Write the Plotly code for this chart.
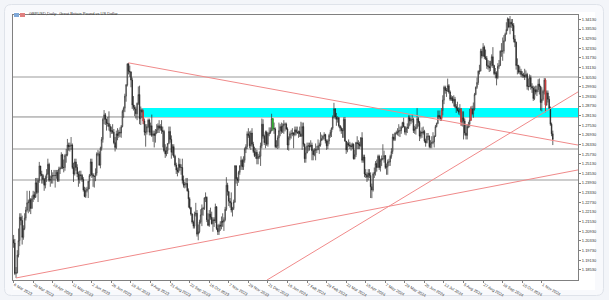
import pandas as pd
import plotly.graph_objects as go

# ---------------- DATA (GBPUSD daily, prices in 1e-4) ----------------
OPEN_FIRST = 12040
HOLIDAYS = ["2023-12-25", "2024-01-01"]
FIRST_DAY, LAST_DAY = "2023-03-06", "2024-11-14"

C_2023_03 = [12020, 11830, 11835, 11945, 12035, 12180, 12160, 12055, 12110, 12175, 12225, 12270, 12275, 12290, 12235, 12295, 12320, 12305, 12395, 12335]
H_2023_03 = [12070, 12045, 11870, 11975, 12110, 12205, 12205, 12190, 12130, 12205, 12245, 12345, 12290, 12345, 12300, 12315, 12345, 12340, 12425, 12425]
L_2023_03 = [11990, 11820, 11802, 11830, 11930, 12000, 12130, 12010, 12040, 12100, 12160, 12215, 12205, 12215, 12200, 12235, 12275, 12290, 12300, 12325]

C_2023_04 = [12410, 12500, 12450, 12440, 12415, 12380, 12425, 12450, 12510, 12410, 12415, 12435, 12440, 12440, 12440, 12460, 12410, 12480, 12485, 12570]
H_2023_04 = [12425, 12525, 12500, 12470, 12450, 12425, 12440, 12480, 12545, 12520, 12440, 12475, 12460, 12475, 12475, 12475, 12475, 12495, 12495, 12585]
L_2023_04 = [12275, 12395, 12435, 12390, 12390, 12345, 12360, 12400, 12445, 12400, 12370, 12390, 12390, 12410, 12365, 12420, 12400, 12400, 12450, 12480]

C_2023_05 = [12490, 12490, 12565, 12570, 12630, 12620, 12625, 12630, 12490, 12450, 12525, 12490, 12450, 12415, 12445, 12440, 12415, 12350, 12310, 12345, 12355, 12405, 12440]
H_2023_05 = [12575, 12540, 12575, 12605, 12668, 12645, 12645, 12680, 12640, 12520, 12545, 12545, 12510, 12465, 12470, 12470, 12450, 12430, 12370, 12365, 12370, 12405, 12450]
L_2023_05 = [12480, 12460, 12470, 12520, 12560, 12595, 12590, 12600, 12480, 12400, 12440, 12470, 12430, 12370, 12390, 12410, 12400, 12340, 12305, 12300, 12335, 12300, 12355]

C_2023_06 = [12525, 12445, 12435, 12435, 12455, 12575, 12575, 12505, 12610, 12665, 12790, 12818, 12790, 12765, 12765, 12745, 12715, 12720, 12710, 12645, 12615, 12700]
H_2023_06 = [12545, 12545, 12455, 12440, 12485, 12585, 12600, 12590, 12620, 12680, 12800, 12848, 12830, 12795, 12805, 12840, 12760, 12745, 12760, 12730, 12680, 12720]
L_2023_06 = [12435, 12425, 12370, 12365, 12405, 12440, 12560, 12500, 12485, 12595, 12645, 12760, 12755, 12720, 12745, 12720, 12675, 12700, 12700, 12635, 12590, 12605]

C_2023_07 = [12690, 12710, 12705, 12745, 12840, 12860, 12935, 13005, 13135, 13090, 13085, 13035, 12880, 12865, 12855, 12825, 12890, 12945, 12795, 12850, 12835]
H_2023_07 = [12735, 12725, 12740, 12755, 12850, 12870, 12950, 13010, 13140, 13142, 13125, 13090, 13050, 12935, 12880, 12870, 12895, 12995, 13000, 12870, 12860]
L_2023_07 = [12660, 12675, 12680, 12675, 12740, 12800, 12835, 12900, 12995, 13070, 13055, 12990, 12855, 12845, 12810, 12795, 12785, 12880, 12760, 12755, 12800]

C_2023_08 = [12780, 12710, 12710, 12745, 12785, 12710, 12750, 12690, 12700, 12690, 12705, 12725, 12750, 12735, 12745, 12720, 12715, 12595, 12575, 12595, 12640, 12715, 12665]
H_2023_08 = [12850, 12795, 12760, 12760, 12795, 12795, 12770, 12820, 12720, 12720, 12730, 12760, 12765, 12785, 12760, 12785, 12745, 12725, 12635, 12620, 12640, 12745, 12745]
L_2023_08 = [12760, 12690, 12620, 12695, 12735, 12690, 12690, 12680, 12650, 12615, 12645, 12700, 12705, 12705, 12720, 12700, 12615, 12585, 12550, 12560, 12575, 12635, 12645]

C_2023_09 = [12585, 12620, 12560, 12505, 12475, 12465, 12510, 12490, 12490, 12410, 12380, 12385, 12390, 12345, 12295, 12240, 12200, 12150, 12125, 12200, 12205]
H_2023_09 = [12690, 12635, 12635, 12570, 12520, 12490, 12550, 12545, 12510, 12545, 12440, 12400, 12425, 12425, 12360, 12305, 12245, 12205, 12160, 12215, 12270]
L_2023_09 = [12545, 12565, 12550, 12495, 12450, 12435, 12455, 12470, 12445, 12390, 12365, 12360, 12365, 12340, 12240, 12230, 12190, 12140, 12110, 12110, 12185]

C_2023_10 = [12075, 12090, 12150, 12195, 12235, 12235, 12300, 12305, 12165, 12130, 12200, 12180, 12140, 12165, 12160, 12245, 12110, 12090, 12130, 12125, 12155, 12150]
H_2023_10 = [12225, 12135, 12165, 12230, 12260, 12245, 12305, 12335, 12310, 12205, 12225, 12240, 12215, 12180, 12180, 12265, 12250, 12135, 12140, 12155, 12185, 12205]
L_2023_10 = [12060, 12037, 12080, 12140, 12125, 12190, 12225, 12275, 12150, 12125, 12120, 12165, 12135, 12090, 12120, 12145, 12100, 12070, 12070, 12095, 12105, 12120]

C_2023_11 = [12165, 12230, 12380, 12340, 12280, 12270, 12225, 12235, 12275, 12500, 12420, 12410, 12460, 12500, 12535, 12495, 12535, 12605, 12620, 12700, 12690, 12625]
H_2023_11 = [12180, 12245, 12430, 12395, 12340, 12300, 12335, 12245, 12290, 12505, 12505, 12430, 12470, 12505, 12560, 12545, 12560, 12615, 12635, 12715, 12735, 12715]
L_2023_11 = [12095, 12155, 12220, 12315, 12250, 12240, 12210, 12185, 12225, 12270, 12390, 12375, 12395, 12445, 12475, 12475, 12475, 12520, 12580, 12605, 12675, 12610]

C_2023_12 = [12705, 12635, 12590, 12565, 12585, 12545, 12560, 12560, 12625, 12760, 12685, 12645, 12710, 12635, 12700, 12705, 12720, 12795, 12735, 12730]
H_2023_12 = [12720, 12735, 12650, 12620, 12610, 12600, 12575, 12590, 12645, 12795, 12790, 12695, 12720, 12720, 12710, 12740, 12740, 12825, 12795, 12770]
L_2023_12 = [12600, 12620, 12580, 12555, 12545, 12510, 12510, 12545, 12500, 12610, 12670, 12630, 12610, 12625, 12620, 12685, 12700, 12715, 12720, 12700]

C_2024_01 = [12620, 12625, 12675, 12720, 12745, 12715, 12750, 12760, 12760, 12730, 12630, 12675, 12700, 12700, 12705, 12695, 12725, 12710, 12705, 12715, 12700, 12685]
H_2024_01 = [12740, 12660, 12690, 12770, 12760, 12770, 12765, 12785, 12770, 12770, 12740, 12685, 12715, 12725, 12735, 12710, 12745, 12745, 12745, 12720, 12745, 12775]
L_2024_01 = [12610, 12610, 12605, 12610, 12685, 12700, 12705, 12700, 12715, 12725, 12600, 12595, 12660, 12670, 12685, 12610, 12685, 12690, 12700, 12675, 12680, 12680]

C_2024_02 = [12745, 12635, 12545, 12580, 12625, 12625, 12620, 12630, 12595, 12570, 12600, 12600, 12600, 12625, 12630, 12660, 12670, 12685, 12695, 12655, 12625]
H_2024_02 = [12770, 12770, 12640, 12620, 12645, 12645, 12645, 12660, 12645, 12605, 12610, 12640, 12625, 12665, 12645, 12710, 12695, 12690, 12710, 12700, 12665]
L_2024_02 = [12600, 12620, 12520, 12520, 12580, 12590, 12595, 12615, 12535, 12535, 12560, 12535, 12580, 12600, 12575, 12620, 12655, 12660, 12665, 12640, 12600]

C_2024_03 = [12655, 12690, 12710, 12735, 12805, 12855, 12805, 12790, 12800, 12750, 12735, 12720, 12720, 12790, 12655, 12600, 12640, 12630, 12625, 12620, 12635]
H_2024_03 = [12665, 12700, 12725, 12740, 12815, 12893, 12860, 12830, 12810, 12805, 12755, 12745, 12735, 12803, 12805, 12655, 12650, 12665, 12650, 12640, 12645]
L_2024_03 = [12605, 12635, 12675, 12680, 12725, 12795, 12790, 12750, 12770, 12740, 12715, 12700, 12675, 12675, 12650, 12575, 12585, 12620, 12605, 12595, 12605]

C_2024_04 = [12545, 12570, 12645, 12640, 12635, 12625, 12675, 12535, 12555, 12450, 12445, 12430, 12455, 12440, 12370, 12350, 12450, 12460, 12515, 12490, 12560, 12490]
H_2024_04 = [12640, 12600, 12650, 12685, 12660, 12650, 12680, 12710, 12570, 12570, 12480, 12460, 12480, 12480, 12460, 12390, 12460, 12490, 12530, 12540, 12570, 12570]
L_2024_04 = [12540, 12540, 12555, 12605, 12605, 12605, 12615, 12520, 12520, 12430, 12425, 12400, 12410, 12425, 12300, 12299, 12340, 12425, 12440, 12465, 12490, 12475]

C_2024_05 = [12535, 12545, 12545, 12565, 12490, 12495, 12525, 12525, 12560, 12590, 12680, 12665, 12705, 12705, 12710, 12720, 12720, 12740, 12770, 12745, 12710, 12735, 12740]
H_2024_05 = [12545, 12565, 12635, 12595, 12565, 12515, 12540, 12545, 12570, 12610, 12700, 12700, 12710, 12720, 12735, 12760, 12745, 12750, 12775, 12800, 12745, 12745, 12765]
L_2024_05 = [12465, 12500, 12535, 12520, 12480, 12445, 12445, 12500, 12500, 12545, 12575, 12655, 12655, 12695, 12690, 12685, 12680, 12700, 12735, 12740, 12695, 12690, 12705]

C_2024_06 = [12800, 12780, 12790, 12790, 12720, 12730, 12740, 12795, 12770, 12685, 12710, 12705, 12715, 12655, 12645, 12685, 12685, 12620, 12640, 12645]
H_2024_06 = [12815, 12815, 12800, 12820, 12800, 12750, 12760, 12860, 12805, 12780, 12720, 12740, 12745, 12725, 12670, 12705, 12705, 12690, 12660, 12685]
L_2024_06 = [12730, 12750, 12760, 12770, 12705, 12700, 12695, 12730, 12745, 12655, 12670, 12675, 12695, 12645, 12620, 12640, 12660, 12610, 12610, 12610]

C_2024_07 = [12650, 12685, 12745, 12765, 12815, 12805, 12795, 12845, 12910, 12990, 12970, 12970, 13000, 12960, 12915, 12925, 12905, 12915, 12870, 12860, 12845, 12835, 12855]
H_2024_07 = [12710, 12690, 12755, 12770, 12845, 12845, 12815, 12860, 12940, 13000, 13000, 12985, 13044, 13010, 12970, 12940, 12935, 12940, 12930, 12885, 12900, 12865, 12885]
L_2024_07 = [12635, 12615, 12680, 12740, 12760, 12790, 12780, 12780, 12815, 12885, 12950, 12930, 12960, 12950, 12905, 12905, 12890, 12870, 12860, 12830, 12840, 12820, 12815]

C_2024_08 = [12775, 12800, 12780, 12705, 12690, 12745, 12760, 12785, 12855, 12825, 12855, 12945, 12990, 13020, 13090, 13090, 13215, 13185, 13240, 13180, 13170, 13125]
H_2024_08 = [12860, 12840, 12840, 12795, 12755, 12760, 12775, 12855, 12870, 12875, 12895, 12955, 12995, 13050, 13095, 13130, 13230, 13230, 13265, 13250, 13225, 13185]
L_2024_08 = [12750, 12745, 12665, 12690, 12665, 12665, 12735, 12740, 12780, 12815, 12800, 12845, 12940, 12980, 13005, 13070, 13090, 13170, 13180, 13165, 13160, 13105]

C_2024_09 = [13120, 13110, 13140, 13180, 13125, 13075, 13080, 13050, 13120, 13125, 13215, 13215, 13215, 13280, 13320, 13350, 13415, 13365, 13395, 13385, 13375]
H_2024_09 = [13160, 13155, 13155, 13195, 13240, 13130, 13110, 13090, 13140, 13160, 13220, 13265, 13300, 13315, 13330, 13395, 13425, 13420, 13434, 13415, 13415]
L_2024_09 = [13100, 13085, 13090, 13120, 13110, 13065, 13045, 13002, 13040, 13105, 13125, 13180, 13155, 13200, 13275, 13320, 13340, 13360, 13320, 13360, 13340]

C_2024_10 = [13290, 13270, 13125, 13125, 13085, 13090, 13070, 13065, 13065, 13055, 13070, 12995, 12995, 13050, 12995, 12985, 12920, 12975, 12960, 12975, 13010, 12995, 12895]
H_2024_10 = [13390, 13315, 13275, 13170, 13130, 13120, 13105, 13090, 13080, 13105, 13095, 13080, 13045, 13070, 13065, 13015, 13000, 12995, 13000, 13000, 13040, 13045, 13000]
L_2024_10 = [13270, 13240, 13100, 13070, 13075, 13070, 13055, 13050, 13050, 13035, 13050, 12975, 12970, 12990, 12975, 12955, 12905, 12910, 12945, 12935, 12960, 12945, 12845]

C_2024_11 = [12915, 12965, 13035, 12880, 12955, 12915, 12860, 12760, 12700, 12665]
H_2024_11 = [12990, 12975, 13048, 13045, 12970, 12970, 12935, 12870, 12770, 12720]
L_2024_11 = [12840, 12905, 12945, 12835, 12875, 12895, 12855, 12750, 12685, 12630]

CLOSE_MONTHS = [C_2023_03, C_2023_04, C_2023_05, C_2023_06, C_2023_07, C_2023_08, C_2023_09,
                C_2023_10, C_2023_11, C_2023_12, C_2024_01, C_2024_02, C_2024_03, C_2024_04,
                C_2024_05, C_2024_06, C_2024_07, C_2024_08, C_2024_09, C_2024_10, C_2024_11]
HIGH_MONTHS = [H_2023_03, H_2023_04, H_2023_05, H_2023_06, H_2023_07, H_2023_08, H_2023_09,
               H_2023_10, H_2023_11, H_2023_12, H_2024_01, H_2024_02, H_2024_03, H_2024_04,
               H_2024_05, H_2024_06, H_2024_07, H_2024_08, H_2024_09, H_2024_10, H_2024_11]
LOW_MONTHS = [L_2023_03, L_2023_04, L_2023_05, L_2023_06, L_2023_07, L_2023_08, L_2023_09,
              L_2023_10, L_2023_11, L_2023_12, L_2024_01, L_2024_02, L_2024_03, L_2024_04,
              L_2024_05, L_2024_06, L_2024_07, L_2024_08, L_2024_09, L_2024_10, L_2024_11]

# horizontal levels and zone (prices)
LEVELS = [1.3054, 1.2605, 1.2412]
LEVEL_DARK = [1.2805]
ZONE = (1.2805, 1.2861)
ZONE_START = "2023-08-01"
# trend lines: (bar index, price) -> (bar index, price)
TRENDS = [(94, 1.3142, 461.6, 1.2630),
          (2, 1.1802, 461.6, 1.2475),
          (207.2, 1.1789, 461.6, 1.2961)]
RED_BARS = ["2023-08-01", "2024-07-10", "2024-08-01", "2024-08-13", "2024-11-06"]
GREEN_BARS = ["2023-12-28"]

Y_TICKS = [1.34130, 1.33530, 1.32930, 1.32330, 1.31730, 1.31130, 1.30530, 1.29930, 1.29330,
           1.28730, 1.28130, 1.27530, 1.26930, 1.26330, 1.25730, 1.25130, 1.24530, 1.23930,
           1.23330, 1.22730, 1.22130, 1.21530, 1.20930, 1.20330, 1.19730, 1.19130, 1.18530]
X_TICK_EVERY = 16
TITLE = "GBPUSD,Daily:  Great Britain Pound vs US Dollar"

# ---------------- BUILD ----------------
closes = [v / 1e4 for m in CLOSE_MONTHS for v in m]
highs = [v / 1e4 for m in HIGH_MONTHS for v in m]
lows = [v / 1e4 for m in LOW_MONTHS for v in m]
opens = [OPEN_FIRST / 1e4] + closes[:-1]
dates = pd.bdate_range(FIRST_DAY, LAST_DAY)
dates = dates[~dates.isin(pd.to_datetime(HOLIDAYS))]
n = len(closes)
assert len(dates) == n == len(highs) == len(lows)
idx = list(range(n))
date_pos = {d.strftime("%Y-%m-%d"): i for i, d in enumerate(dates)}

W, H = 609, 300
L_, R_, T_, B_ = 13, 578, 15, 280
def px(x):
    return (x - L_) / (R_ - L_)
def py(y):
    return (B_ - y) / (B_ - T_)

fig = go.Figure()
fig.add_trace(go.Candlestick(
    x=idx, open=opens, high=highs, low=lows, close=closes,
    increasing=dict(line=dict(color="#2b2b2b", width=0.7), fillcolor="#ffffff"),
    decreasing=dict(line=dict(color="#1f1f1f", width=0.7), fillcolor="#1a1a1a"),
    whiskerwidth=0, hoverinfo="skip", showlegend=False))

for sel, col in ((RED_BARS, "#e04040"), (GREEN_BARS, "#30c030")):
    ii = [date_pos[d] for d in sel]
    fig.add_trace(go.Candlestick(
        x=ii, open=[opens[i] for i in ii], high=[highs[i] for i in ii],
        low=[lows[i] for i in ii], close=[closes[i] for i in ii],
        increasing=dict(line=dict(color=col, width=0.7), fillcolor=col),
        decreasing=dict(line=dict(color=col, width=0.7), fillcolor=col),
        whiskerwidth=0, hoverinfo="skip", showlegend=False))

shapes = []
r = 7
x0, x1, y0, y1 = 4.5, 603.5, 4.5, 295.5
path = (f"M {px(x0 + r)},{py(y0)} L {px(x1 - r)},{py(y0)} Q {px(x1)},{py(y0)} {px(x1)},{py(y0 + r)} "
        f"L {px(x1)},{py(y1 - r)} Q {px(x1)},{py(y1)} {px(x1 - r)},{py(y1)} "
        f"L {px(x0 + r)},{py(y1)} Q {px(x0)},{py(y1)} {px(x0)},{py(y1 - r)} "
        f"L {px(x0)},{py(y0 + r)} Q {px(x0)},{py(y0)} {px(x0 + r)},{py(y0)} Z")
shapes.append(dict(type="path", path=path, xref="paper", yref="paper",
                   fillcolor="#f8f9fc", line=dict(color="#dfe3ea", width=1), layer="below"))
shapes.append(dict(type="rect", xref="paper", yref="paper", x0=px(13), x1=px(595), y0=py(12), y1=py(290),
                   fillcolor="#ffffff", line=dict(width=0), layer="below"))
shapes.append(dict(type="rect", xref="x", yref="y", x0=date_pos[ZONE_START] - 0.5, x1=461.6,
                   y0=ZONE[0], y1=ZONE[1], fillcolor="#00ffff", line=dict(width=0), layer="below"))
for lv in LEVELS:
    shapes.append(dict(type="line", xref="paper", yref="y", x0=0, x1=1, y0=lv, y1=lv,
                       line=dict(color="#bdbdbd", width=1.6), layer="below"))
for lv in LEVEL_DARK:
    shapes.append(dict(type="line", xref="paper", yref="y", x0=0, x1=1, y0=lv, y1=lv,
                       line=dict(color="#8a8a8a", width=1), layer="below"))
for (a0, p0, a1, p1) in TRENDS:
    shapes.append(dict(type="line", xref="x", yref="y", x0=a0, x1=a1, y0=p0, y1=p1,
                       line=dict(color="#f08a8a", width=1), layer="above"))
shapes.append(dict(type="rect", xref="paper", yref="paper", x0=px(14), x1=px(19), y0=py(17), y1=py(13),
                   fillcolor="#7fa8d8", line=dict(width=0)))
shapes.append(dict(type="rect", xref="paper", yref="paper", x0=px(20), x1=px(25), y0=py(17), y1=py(13),
                   fillcolor="#e08080", line=dict(width=0)))

annotations = [dict(text=TITLE, xref="paper", yref="paper", x=px(26.5), y=py(13), xanchor="left",
                    yanchor="middle", showarrow=False, font=dict(size=4, color="#333333",
                    family="Liberation Sans"))]

tickvals = idx[::X_TICK_EVERY]
ticktext = [f"{d.day} {d.strftime('%b %Y')}" for d in dates[::X_TICK_EVERY]]

fig.update_layout(
    width=W, height=H, margin=dict(l=L_, r=W - R_, t=T_, b=H - B_, autoexpand=False),
    paper_bgcolor="#f3f5f9", plot_bgcolor="rgba(0,0,0,0)",
    shapes=shapes, annotations=annotations, showlegend=False,
    font=dict(family="Liberation Sans", size=4, color="#333333"),
    xaxis=dict(range=[-0.5, 461.6], tickvals=tickvals, ticktext=ticktext, showgrid=False,
               zeroline=False, showline=True, linecolor="#808080", linewidth=1, mirror=True,
               ticks="outside", ticklen=2, tickcolor="#808080", ticklabelposition="outside right",
               tickfont=dict(size=4, color="#333333"), rangeslider=dict(visible=False),
               fixedrange=True, automargin=False),
    yaxis=dict(range=[1.17893, 1.34402], side="right", tickvals=Y_TICKS,
               ticktext=[f"{v:.5f}" for v in Y_TICKS], showgrid=False, zeroline=False,
               showline=True, linecolor="#808080", linewidth=1, mirror=True,
               ticks="outside", ticklen=2, tickcolor="#808080",
               tickfont=dict(size=4, color="#333333"), fixedrange=True, automargin=False),
)

fig.write_html("out.html")
